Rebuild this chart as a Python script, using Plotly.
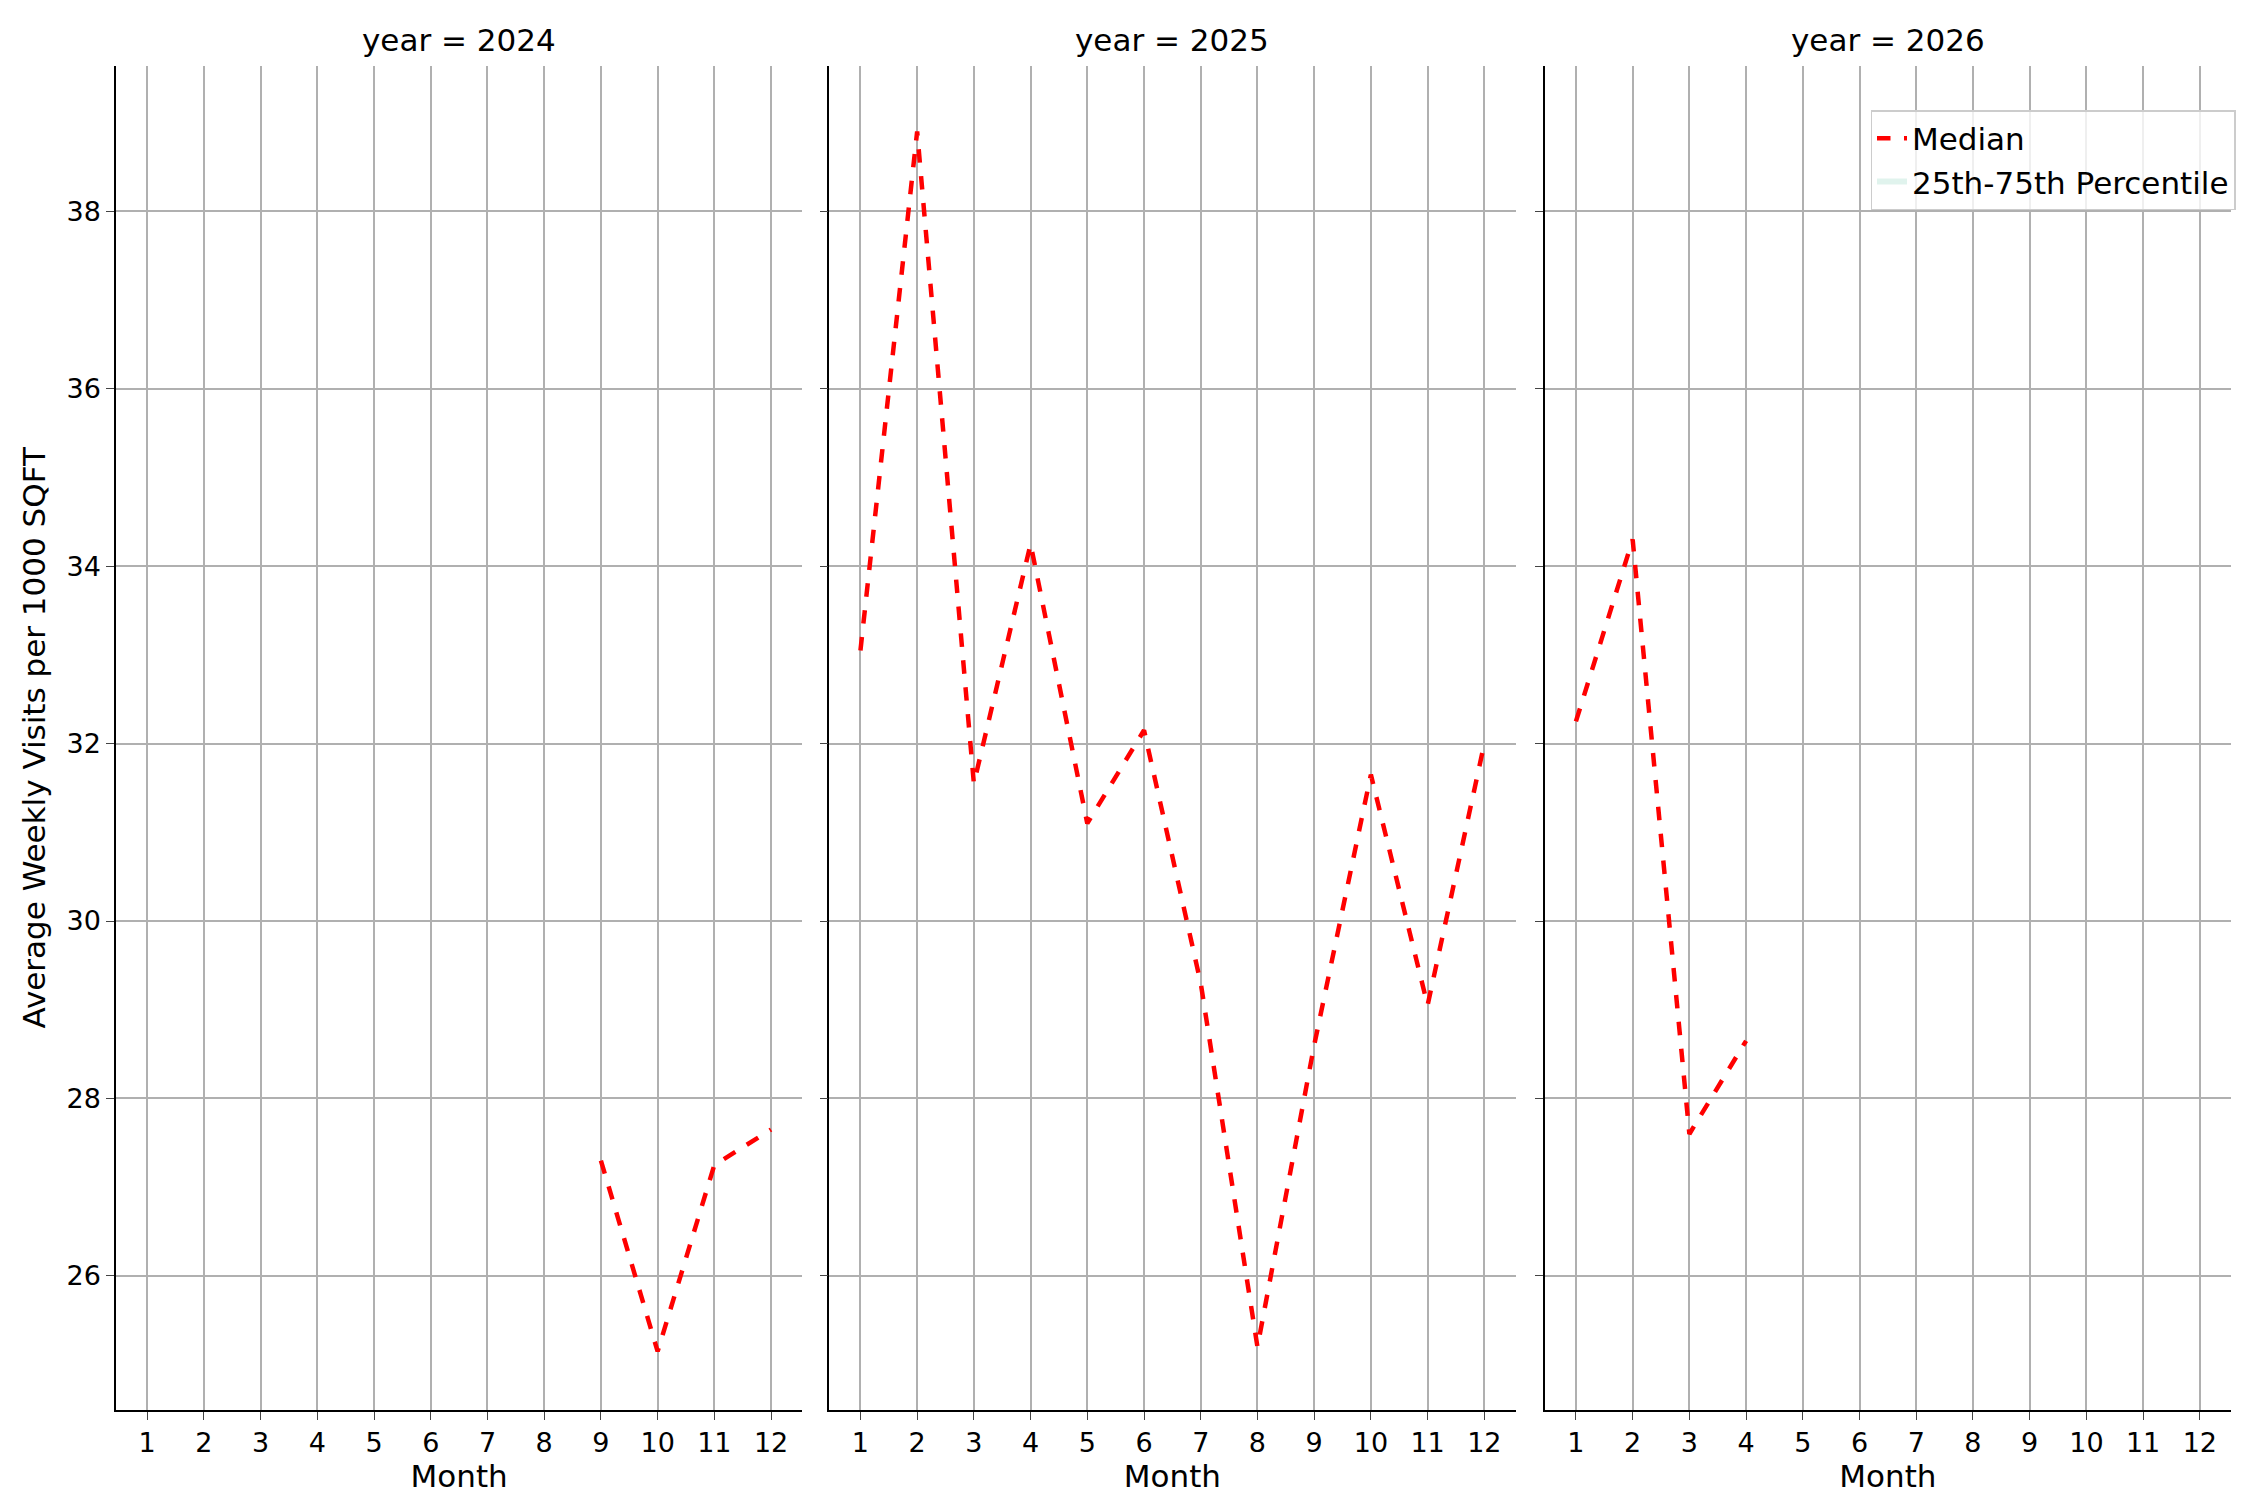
import plotly.graph_objects as go

years = [2024, 2025, 2026]
months_2024 = [9, 10, 11, 12]
median_2024 = [27.3, 25.15, 27.25, 27.65]
months_2025 = [1, 2, 3, 4, 5, 6, 7, 8, 9, 10, 11, 12]
median_2025 = [33.05, 38.9, 31.55, 34.25, 31.1, 32.15, 29.3, 25.2, 28.6, 31.65, 29.05, 32.0]
months_2026 = [1, 2, 3, 4]
median_2026 = [32.25, 34.3, 27.6, 28.65]
xticks = list(range(1, 13))
yticks = [26, 28, 30, 32, 34, 36, 38]

data = [(months_2024, median_2024), (months_2025, median_2025), (months_2026, median_2026)]
domains = [(0.048, 0.353), (0.365, 0.670), (0.683, 0.988)]
ydom = (0.0654, 0.9615)
F = "DejaVu Sans"

fig = go.Figure()
for i, (mx, my) in enumerate(data):
    ax = "" if i == 0 else str(i + 1)
    fig.add_trace(go.Scatter(x=mx, y=my, mode="lines", xaxis="x" + ax, yaxis="y" + ax,
                             line=dict(color="red", dash="dash", width=4.5),
                             name="Median", showlegend=(i == 0)))
fig.add_trace(go.Scatter(x=[None], y=[None], fill="toself", mode="none", xaxis="x3", yaxis="y3",
                         fillcolor="rgba(102,194,165,0.2)", name="25th-75th Percentile"))

layout = dict(paper_bgcolor="white", plot_bgcolor="white",
              margin=dict(l=0, r=0, t=0, b=0), width=2250, height=1500,
              font=dict(family=F, size=27, color="black"),
              legend=dict(x=0.99, y=0.932, xanchor="right", yanchor="top",
                          bordercolor="#cccccc", borderwidth=1.5, bgcolor="rgba(255,255,255,0.8)",
                          font=dict(size=31)),
              annotations=[])
for i in range(3):
    ax = "" if i == 0 else str(i + 1)
    layout["xaxis" + ax] = dict(domain=list(domains[i]), anchor="y" + ax, range=[0.45, 12.55],
                                tickvals=xticks, showgrid=True, gridcolor="#b0b0b0", gridwidth=1.5,
                                showline=True, linecolor="black", linewidth=1.5, ticks="outside",
                                ticklen=8, zeroline=False,
                                title=dict(text="Month", font=dict(size=31), standoff=6))
    layout["yaxis" + ax] = dict(domain=list(ydom), anchor="x" + ax, range=[24.49, 39.64],
                                tickvals=yticks, showgrid=True, gridcolor="#b0b0b0", gridwidth=1.5,
                                showline=True, linecolor="black", linewidth=1.5, ticks="outside",
                                ticklen=8, zeroline=False, showticklabels=(i == 0),
                                title=dict(text="Average Weekly Visits per 1000 SQFT" if i == 0 else "",
                                           font=dict(size=31), standoff=12))
    layout["annotations"].append(dict(text=f"year = {years[i]}", xref="paper", yref="paper",
                                      x=(domains[i][0] + domains[i][1]) / 2, y=ydom[1] + 0.004,
                                      xanchor="center", yanchor="bottom", showarrow=False,
                                      font=dict(size=31)))
fig.update_layout(**layout)
fig.write_html("out.html")
